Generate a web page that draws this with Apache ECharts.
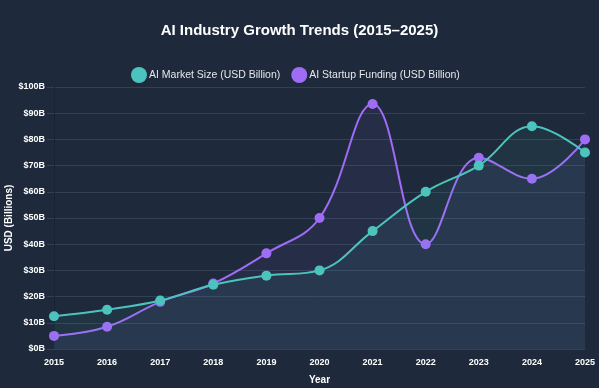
<!DOCTYPE html>
<html><head><meta charset="utf-8">
<script src="https://cdn.jsdelivr.net/npm/echarts@6/dist/echarts.min.js"></script>
<style>html,body{margin:0;padding:0;background:#1e293b;}#c{width:599px;height:388px;}</style>
</head><body><div id="c"></div>
<script>
const years = ['2015','2016','2017','2018','2019','2020','2021','2022','2023','2024','2025'];
const marketSize = [12.5, 15, 18.5, 24.5, 28, 30, 45, 60, 70, 85, 75];
const startupFunding = [5, 8.5, 18, 25, 36.5, 50, 93.5, 40, 73, 65, 80];
const yTicks = [0,10,20,30,40,50,60,70,80,90,100];

const chart = echarts.init(document.getElementById('c'), null, {renderer:'canvas'});
const font = '"Liberation Sans", Arial, sans-serif';
chart.setOption({
  backgroundColor: '#1e293b',
  animation: false,
  title: {
    text: 'AI Industry Growth Trends (2015\u20132025)',
    left: 'center', top: 18,
    textStyle: {color:'#ffffff', fontSize:15, fontWeight:'bold', fontFamily: font}
  },
  legend: {
    top: 62, left: 126,
    data: ['AI Market Size (USD Billion)', 'AI Startup Funding (USD Billion)'],
    icon: 'circle', itemWidth: 16, itemHeight: 16, itemGap: 11,
    textStyle: {color:'#e5e7eb', fontSize:10.5, fontFamily: font, padding:[0,0,0,-3]}
  },
  grid: {left: 54, right: 14, top: 87, bottom: 39, containLabel:false, outerBoundsMode:'none'},
  xAxis: {
    type:'category', data: years, boundaryGap:false,
    name:'Year', nameLocation:'middle', nameGap:26, nameMoveOverlap:false,
    nameTextStyle:{color:'#ffffff', fontSize:10, fontWeight:'bold', fontFamily:font},
    axisLine:{show:true, lineStyle:{color:'#334155'}},
    axisTick:{show:false},
    axisLabel:{color:'#ffffff', fontSize:9, fontWeight:'bold', fontFamily:font, margin:9, interval:0},
    splitLine:{show:false}
  },
  yAxis: {
    type:'value', min:0, max:100, interval:10,
    name:'USD (Billions)', nameLocation:'middle', nameGap:40, nameRotate:90, nameMoveOverlap:false,
    nameTextStyle:{color:'#ffffff', fontSize:10, fontWeight:'bold', fontFamily:font},
    axisLine:{show:true, lineStyle:{color:'#1a2333'}},
    axisTick:{show:true, length:7, lineStyle:{color:'#334155'}},
    axisLabel:{color:'#ffffff', fontSize:9, fontWeight:'bold', fontFamily:font, margin:9,
      formatter: v => yTicks.includes(v) ? '$' + v + 'B' : ''},
    splitLine:{lineStyle:{color:'#334155', width:1}}
  },
  series: [
    {
      name:'AI Startup Funding (USD Billion)', type:'line', data: startupFunding,
      smooth:0.4, symbol:'circle', symbolSize:10, z:2,
      lineStyle:{color:'#9f6cf5', width:2},
      itemStyle:{color:'#9f6cf5'},
      areaStyle:{color:'rgba(159,108,245,0.1)', origin:'start'}
    },
    {
      name:'AI Market Size (USD Billion)', type:'line', data: marketSize,
      smooth:0.4, symbol:'circle', symbolSize:10, z:3,
      lineStyle:{color:'#4cc4bd', width:2},
      itemStyle:{color:'#4cc4bd'},
      areaStyle:{color:'rgba(76,196,189,0.1)', origin:'start'}
    }
  ]
});
</script></body></html>
